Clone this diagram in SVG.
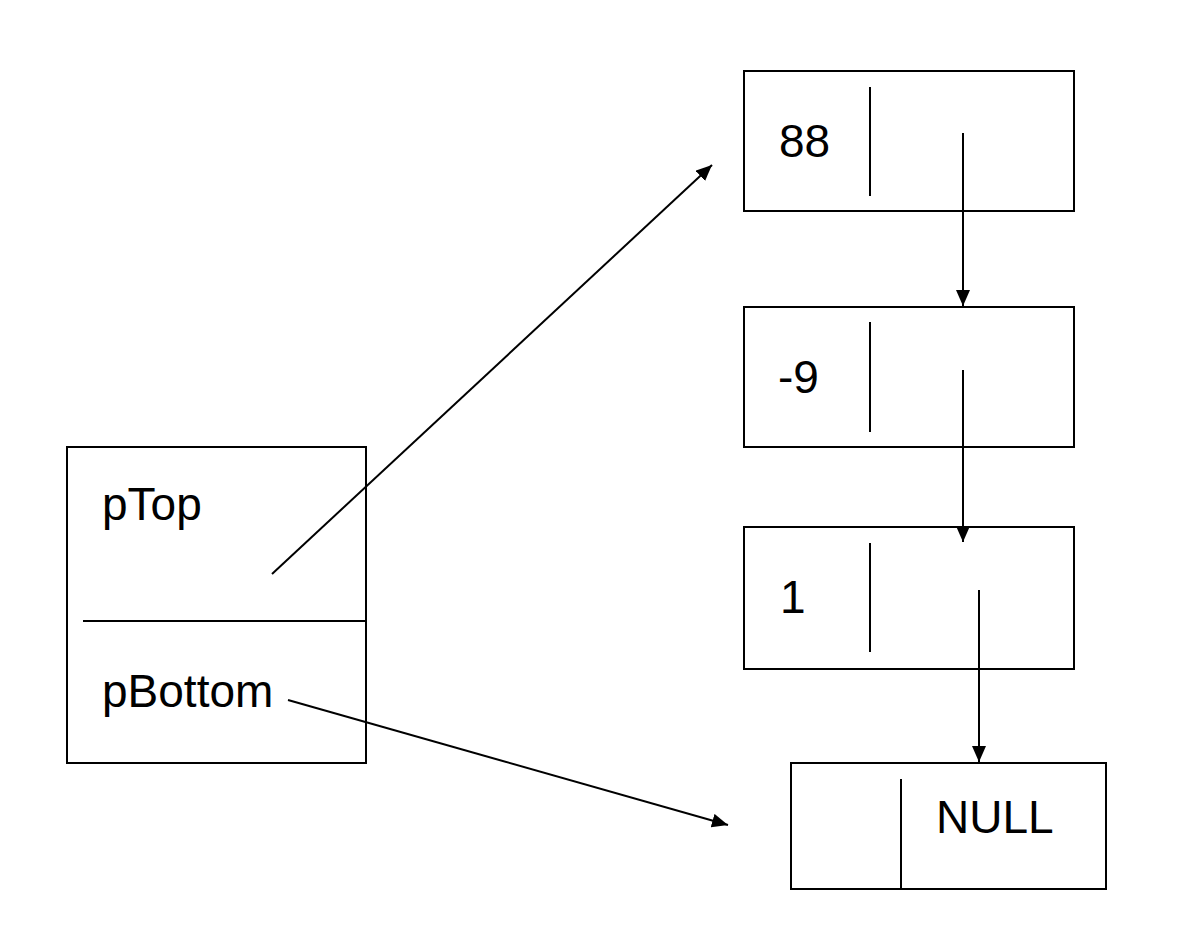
<svg xmlns="http://www.w3.org/2000/svg" width="1202" height="944" viewBox="0 0 1202 944">
<style>
.box{fill:#fff;stroke:#000;stroke-width:2}
.div{stroke:#000;stroke-width:2;fill:none}
.lbl{font-family:"Liberation Sans",Arial,sans-serif;font-size:46px;fill:#000}
.conn{stroke:#000;stroke-width:2;fill:none;marker-end:url(#ah)}
</style>
<defs>
<marker id="ah" markerUnits="userSpaceOnUse" markerWidth="16" markerHeight="14" viewBox="0 0 16 14" refX="16" refY="7" orient="auto">
<path d="M0,0 L16,7 L0,14 Z" fill="#000"/>
</marker>
</defs>
<rect width="1202" height="944" fill="#fff"/>
<g id="stack">
<rect class="box" x="67" y="447" width="299" height="316"/>
<line class="div" x1="83" y1="621" x2="366" y2="621"/>
<text class="lbl" x="102" y="520">pTop</text>
<text class="lbl" x="102" y="707">pBottom</text>
</g>
<g id="node88">
<rect class="box" x="744" y="71" width="330" height="140"/>
<line class="div" x1="870" y1="87" x2="870" y2="196"/>
<text class="lbl" x="779" y="157">88</text>
</g>
<g id="node-9">
<rect class="box" x="744" y="307" width="330" height="140"/>
<line class="div" x1="870" y1="322" x2="870" y2="432"/>
<text class="lbl" x="778" y="393">-9</text>
</g>
<g id="node1">
<rect class="box" x="744" y="527" width="330" height="142"/>
<line class="div" x1="870" y1="543" x2="870" y2="652"/>
<text class="lbl" x="780" y="613">1</text>
</g>
<g id="nodeNull">
<rect class="box" x="791" y="763" width="315" height="126"/>
<line class="div" x1="901" y1="779" x2="901" y2="889"/>
<text class="lbl" x="936" y="833">NULL</text>
</g>
<g id="connectors">
<line class="conn" x1="272" y1="574" x2="712" y2="165"/>
<line class="conn" x1="288" y1="700" x2="728" y2="825"/>
<line class="conn" x1="963" y1="133" x2="963" y2="306"/>
<line class="conn" x1="963" y1="370" x2="963" y2="542"/>
<line class="conn" x1="979" y1="590" x2="979" y2="762"/>
</g>
</svg>
